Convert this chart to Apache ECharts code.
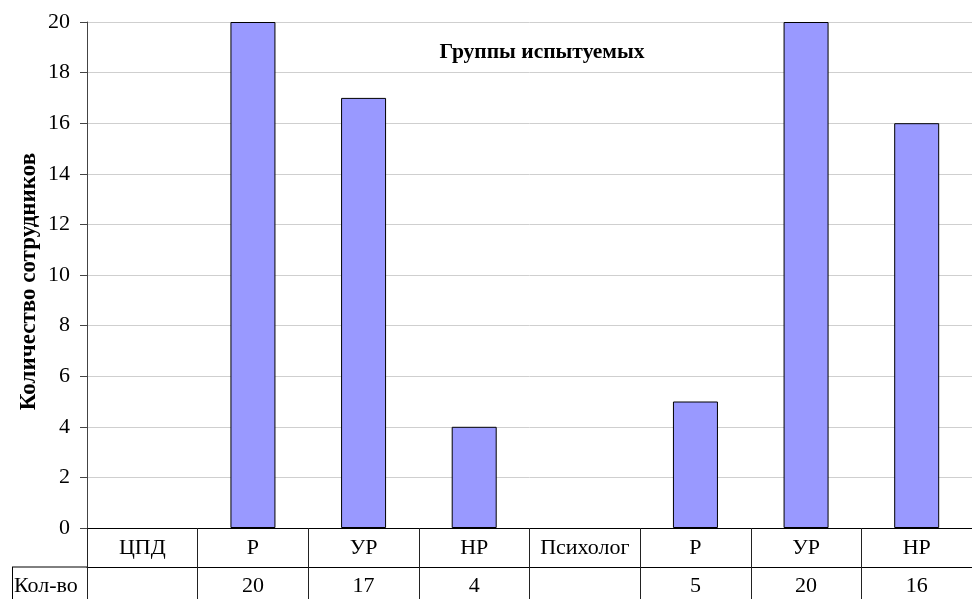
<!DOCTYPE html>
<html>
<head>
<meta charset="utf-8">
<script src="https://cdn.jsdelivr.net/npm/echarts@6/dist/echarts.min.js"></script>
<style>
  html, body { margin: 0; padding: 0; background: #fff; }
  #main { width: 972px; height: 599px; }
</style>
</head>
<body>
<div id="main"></div>
<script>
const categories = ["ЦПД", "Р", "УР", "НР", "Психолог", "Р", "УР", "НР"];
const counts = [null, 20, 17, 4, null, 5, 20, 16];
const rowName = "Кол-во";
const chartTitle = "Группы испытуемых";
const yName = "Количество сотрудников";

const font = "'Liberation Serif', 'Times New Roman', serif";
const chart = echarts.init(document.getElementById("main"));

const options = {
  animation: false,
  title: {
    text: chartTitle,
    left: 537,
    top: 36,
    textAlign: "center",
    textStyle: { fontFamily: font, fontWeight: "bold", fontSize: 21.5, color: "#000" },
  },
  grid: { left: 87, top: 22, width: 892, height: 506 },
  xAxis: [
    {
      type: "category",
      data: categories,
      axisLine: { lineStyle: { color: "#000", width: 1 } },
      axisTick: { show: true, length: 71, lineStyle: { color: "#222" } },
      axisLabel: { margin: 9, fontFamily: font, fontSize: 22, color: "#000", interval: 0 },
    },
    {
      type: "category",
      position: "bottom",
      offset: 39,
      data: counts.map((v) => (v === null ? "" : String(v))),
      axisLine: { show: true, lineStyle: { color: "#000", width: 1 } },
      axisTick: { show: false },
      axisLabel: { margin: 8, fontFamily: font, fontSize: 22, color: "#000", interval: 0 },
    },
  ],
  yAxis: {
    type: "value",
    min: 0,
    max: 20,
    interval: 2,
    name: yName,
    nameLocation: "middle",
    nameGap: 46,
    nameMoveOverlap: false,
    nameTextStyle: {
      fontFamily: font,
      fontWeight: "bold",
      fontSize: 23,
      color: "#000",
      padding: [0, 13, 0, 0],
    },
    axisLine: { show: true, lineStyle: { color: "#444" } },
    axisTick: { show: true, length: 7, lineStyle: { color: "#444" } },
    axisLabel: { margin: 17, fontFamily: font, fontSize: 22, color: "#000" },
    splitLine: { lineStyle: { color: "#cfcfcf" } },
  },
  graphic: [
    { type: "line", shape: { x1: 12, y1: 567, x2: 87, y2: 567 }, style: { stroke: "#000", lineWidth: 1 } },
    { type: "line", shape: { x1: 12.5, y1: 567, x2: 12.5, y2: 599 }, style: { stroke: "#000", lineWidth: 1 } },
    {
      type: "text",
      left: 14,
      top: 575,
      style: { text: rowName, font: "22px " + font, fill: "#000" },
    },
  ],
  series: [
    {
      type: "bar",
      xAxisIndex: 0,
      data: counts,
      barWidth: 45,
      itemStyle: { color: "#9999FF", borderColor: "#000", borderWidth: 1 },
    },
  ],
};

chart.setOption(options);
</script>
</body>
</html>
